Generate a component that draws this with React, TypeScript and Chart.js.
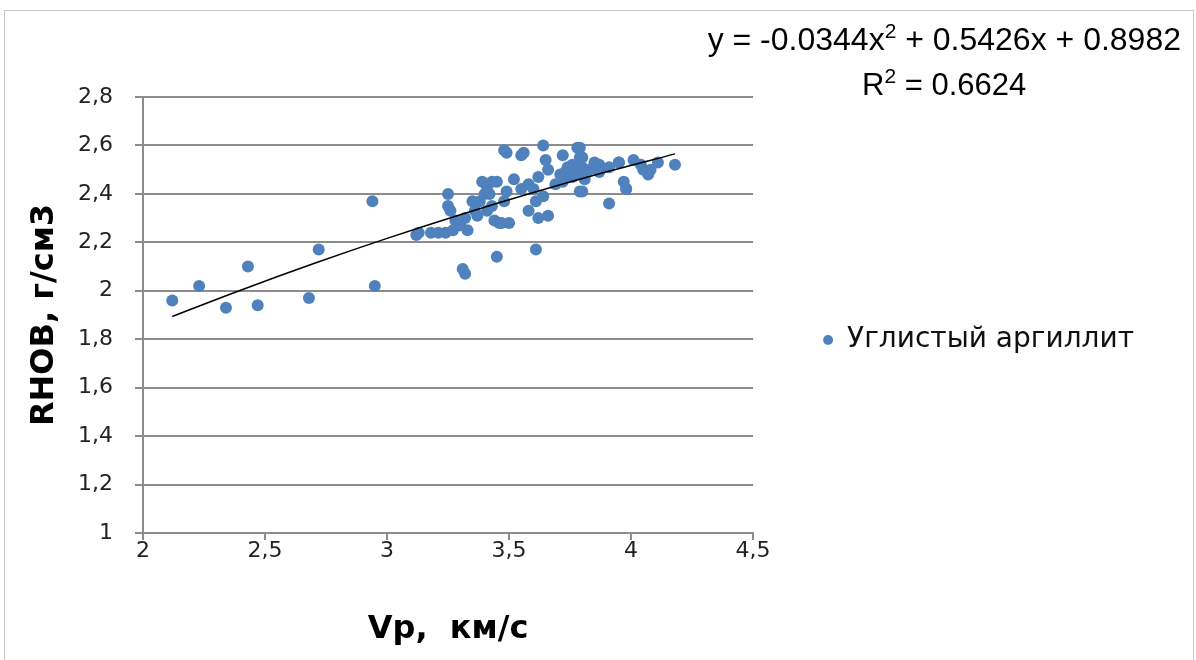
import React, { useEffect, useRef } from "react";
import { Chart, registerables } from "chart.js";

Chart.register(...registerables);

const seriesName = "Углистый аргиллит";
const xTitle = "Vp,  км/с";
const yTitle = "RHOB, г/см3";

const vpValues: number[] = [
  2.12, 2.23, 2.34, 2.43, 2.47, 2.68, 2.72, 2.94, 2.95,
  3.12, 3.13, 3.18, 3.21, 3.24, 3.27, 3.25, 3.25, 3.26, 3.28, 3.31,
  3.32, 3.32, 3.33, 3.35, 3.36, 3.39, 3.41, 3.43, 3.38, 3.41,
  3.43, 3.44, 3.46, 3.48, 3.45, 3.45, 3.47, 3.50, 3.48, 3.49,
  3.55, 3.56, 3.52, 3.49, 3.64, 3.65, 3.62, 3.66, 3.61, 3.64,
  3.58, 3.62, 3.66, 3.61, 3.72, 3.78, 3.79, 3.72, 3.76, 3.78,
  3.79, 3.80, 3.79, 3.80, 3.76, 3.73, 3.80, 3.85, 3.87, 3.91,
  3.95, 3.97, 3.98, 3.80, 3.91, 3.76, 3.95, 4.01, 4.05, 4.07,
  4.11, 4.18, 3.98, 3.30, 3.37, 3.40, 3.42, 3.58, 3.60, 3.69,
  3.71, 3.74, 3.83, 3.81, 3.87, 4.04, 4.08, 3.55,
];
const rhobValues: number[] = [
  1.96, 2.02, 1.93, 2.10, 1.94, 1.97, 2.17, 2.37, 2.02,
  2.23, 2.24, 2.24, 2.24, 2.24, 2.25, 2.40, 2.35, 2.33, 2.29, 2.09,
  2.07, 2.30, 2.25, 2.37, 2.33, 2.45, 2.43, 2.45, 2.37, 2.33,
  2.35, 2.29, 2.28, 2.37, 2.45, 2.14, 2.28, 2.28, 2.58, 2.57,
  2.56, 2.57, 2.46, 2.41, 2.60, 2.54, 2.47, 2.50, 2.37, 2.39,
  2.33, 2.30, 2.31, 2.17, 2.56, 2.59, 2.55, 2.45, 2.49, 2.52,
  2.41, 2.48, 2.59, 2.55, 2.52, 2.49, 2.51, 2.53, 2.49, 2.51,
  2.53, 2.45, 2.42, 2.41, 2.36, 2.47, 2.53, 2.54, 2.50, 2.48,
  2.53, 2.52, 2.42, 2.27, 2.31, 2.40, 2.40, 2.44, 2.42, 2.44,
  2.48, 2.51, 2.50, 2.46, 2.52, 2.52, 2.50, 2.42,
];

// polynomial trendline coefficients shown on the chart
const trendA = -0.0344;
const trendB = 0.5426;
const trendC = 0.8982;
const trendXs: number[] = [2.12, 2.4, 2.7, 3.0, 3.3, 3.6, 3.9, 4.18];

const xTicks: number[] = [2, 2.5, 3, 3.5, 4, 4.5];

export default function App() {
  const canvasRef = useRef<HTMLCanvasElement | null>(null);

  useEffect(() => {
    if (!canvasRef.current) return;
    const points = vpValues.map((x, i) => ({ x, y: rhobValues[i] }));
    const trend = trendXs.map((x) => ({ x, y: trendA * x * x + trendB * x + trendC }));
    const fmt = (v: number) => String(v).replace(".", ",");
    const chart = new Chart(canvasRef.current, {
      type: "scatter",
      data: {
        datasets: [
          {
            label: "trend",
            data: trend,
            showLine: true,
            borderColor: "#000000",
            borderWidth: 1.5,
            pointRadius: 0,
            tension: 0.4,
            order: 0,
          } as any,
          {
            label: seriesName,
            data: points,
            backgroundColor: "#4F81BD",
            borderColor: "#4F81BD",
            pointRadius: 6,
            pointBorderWidth: 0,
            order: 1,
          },
        ],
      },
      options: {
        animation: false,
        responsive: false,
        layout: { padding: { left: 21, right: 52, top: 97, bottom: 10 } },
        plugins: {
          tooltip: { enabled: false },
          legend: {
            position: "right",
            align: "start",
            maxWidth: 500,
            title: {
              display: true,
              text: "",
              padding: { top: 207, bottom: 0 },
              font: { size: 10 },
            },
            labels: {
              filter: (item: any) => item.text !== "trend",
              usePointStyle: true,
              pointStyle: "circle",
              boxWidth: 10,
              boxHeight: 7,
              padding: 10,
              color: "#111111",
              font: { family: "DejaVu Sans", size: 28 },
            },
          } as any,
        },
        scales: {
          x: {
            type: "linear",
            min: 2,
            max: 4.5,
            afterBuildTicks: (scale: any) => {
              scale.ticks = xTicks.map((v) => ({ value: v }));
            },
            afterFit: (scale: any) => {
              scale.height = 117;
            },
            ticks: {
              padding: -2,
              color: "#222222",
              font: { family: "DejaVu Sans", size: 22 },
              callback: (v: any) => fmt(v),
            },
            grid: {
              drawOnChartArea: false,
              drawTicks: true,
              tickLength: 7,
              color: "#8c8c8c",
              lineWidth: 2,
            },
            border: { display: true, color: "#8c8c8c", width: 2 },
            title: {
              display: true,
              text: xTitle,
              color: "#000000",
              font: { family: "DejaVu Sans", size: 32, weight: "bold" },
              padding: { top: 4, bottom: 1 },
            },
          },
          y: {
            type: "linear",
            min: 1,
            max: 2.8,
            ticks: {
              stepSize: 0.2,
              padding: 22,
              color: "#222222",
              font: { family: "DejaVu Sans", size: 22 },
              callback: (v: any) => fmt(Math.round(v * 10) / 10),
            },
            afterFit: (scale: any) => {
              scale.width = 122;
            },
            grid: {
              drawOnChartArea: true,
              drawTicks: true,
              tickLength: 8,
              color: "#8c8c8c",
              lineWidth: 2,
            },
            border: { display: true, color: "#8c8c8c", width: 2 },
            title: {
              display: true,
              text: yTitle,
              color: "#000000",
              font: { family: "DejaVu Sans", size: 32, weight: "bold" },
              padding: { top: 4, bottom: 4 },
            },
          },
          spacer: {
            type: "linear",
            position: "right",
            display: true,
            ticks: { display: false },
            grid: { display: false },
            border: { display: false },
            afterFit: (scale: any) => {
              scale.width = 60;
            },
          },
        },
      },
    });
    return () => chart.destroy();
  }, []);

  const eqFont = "'Liberation Sans Narrow', 'Liberation Sans', sans-serif";

  return (
    <div
      style={{
        position: "fixed",
        left: 0,
        top: 0,
        width: 1196,
        height: 660,
        background: "#ffffff",
        overflow: "hidden",
      }}
    >
      <div
        style={{
          position: "absolute",
          left: 4,
          top: 10,
          width: 1190,
          height: 660,
          border: "1px solid #c8c8c8",
          boxSizing: "border-box",
        }}
      />
      <canvas ref={canvasRef} width={1196} height={660} style={{ position: "absolute", left: 0, top: 0 }} />
      <div
        style={{
          position: "absolute",
          right: 15,
          top: 21,
          fontFamily: eqFont,
          fontSize: 32,
          lineHeight: "37px",
          color: "#000000",
          whiteSpace: "nowrap",
          textAlign: "right",
        }}
      >
        y = -0.0344x<sup style={{ fontSize: 21, verticalAlign: 12, lineHeight: 0 }}>2</sup> + 0.5426x + 0.8982
      </div>
      <div
        style={{
          position: "absolute",
          left: 862,
          top: 66,
          fontFamily: eqFont,
          fontSize: 31,
          lineHeight: "37px",
          color: "#000000",
          whiteSpace: "nowrap",
        }}
      >
        R<sup style={{ fontSize: 21, verticalAlign: 12, lineHeight: 0 }}>2</sup> = 0.6624
      </div>
    </div>
  );
}
